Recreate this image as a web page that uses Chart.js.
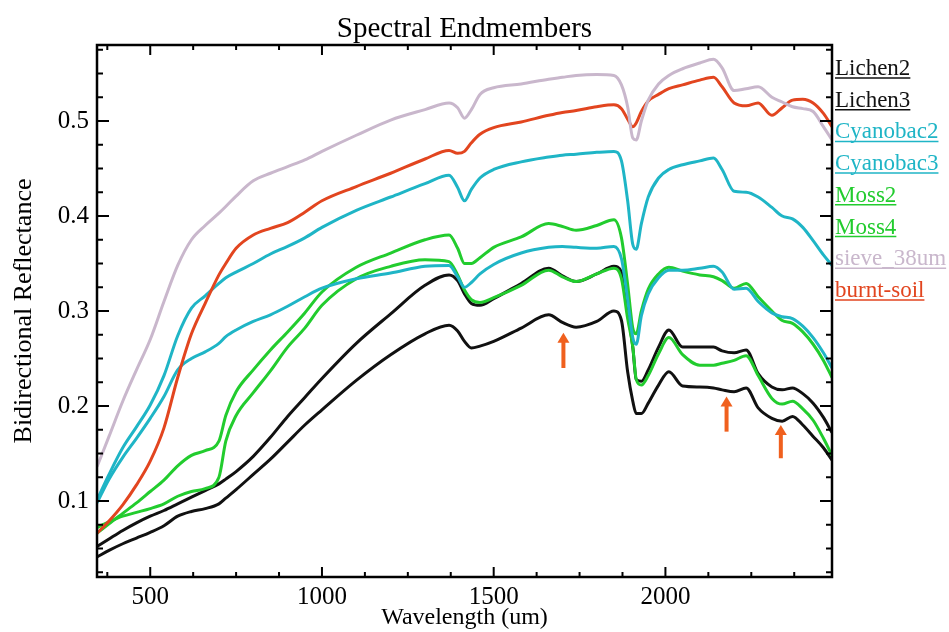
<!DOCTYPE html>
<html>
<head>
<meta charset="utf-8">
<title>Spectral Endmembers</title>
<script src="https://cdn.jsdelivr.net/npm/chart.js@4.4.1/dist/chart.umd.min.js"></script>
<style>
  html, body { margin: 0; padding: 0; background: #fff; }
  #wrap { width: 949px; height: 632px; }
</style>
</head>
<body>
<div id="wrap"><canvas id="chart" width="949" height="632"></canvas></div>
<script>
// wavelength grid shared by every spectrum
const wavelengths = [345, 380, 420, 460, 500, 540, 580, 620, 660, 700, 720, 750, 800, 850, 900, 950, 1000, 1100, 1200, 1300,
  1370, 1395, 1415, 1435, 1460, 1500, 1580, 1660, 1700, 1740, 1800, 1850, 1872, 1890, 1905, 1915, 1930, 1950, 1980, 2010,
  2050, 2100, 2140, 2165, 2200, 2235, 2270, 2310, 2340, 2370, 2400, 2430, 2460, 2485];

const lichen2 = [0.052, 0.060, 0.069, 0.077, 0.084, 0.090, 0.097, 0.104, 0.111, 0.118, 0.123, 0.131, 0.147, 0.167, 0.189, 0.209, 0.229, 0.266, 0.297, 0.327,
  0.338, 0.332, 0.318, 0.308, 0.306, 0.313, 0.329, 0.345, 0.337, 0.331, 0.339, 0.347, 0.341, 0.300, 0.262, 0.228, 0.226, 0.238, 0.262, 0.280,
  0.262, 0.262, 0.262, 0.258, 0.256, 0.259, 0.234, 0.220, 0.217, 0.219, 0.213, 0.203, 0.188, 0.172];

const lichen3 = [0.041, 0.048, 0.055, 0.061, 0.067, 0.074, 0.084, 0.089, 0.092, 0.097, 0.103, 0.112, 0.128, 0.144, 0.162, 0.180, 0.196, 0.227, 0.254, 0.276,
  0.285, 0.279, 0.268, 0.261, 0.263, 0.268, 0.282, 0.296, 0.288, 0.283, 0.289, 0.300, 0.290, 0.236, 0.205, 0.192, 0.192, 0.203, 0.222, 0.236,
  0.221, 0.220, 0.219, 0.217, 0.215, 0.219, 0.198, 0.187, 0.184, 0.189, 0.180, 0.168, 0.156, 0.143];

const cyanobac2 = [0.101, 0.128, 0.156, 0.178, 0.201, 0.232, 0.274, 0.303, 0.316, 0.329, 0.335, 0.341, 0.350, 0.360, 0.368, 0.377, 0.388, 0.406, 0.420, 0.434,
  0.443, 0.430, 0.416, 0.428, 0.440, 0.449, 0.457, 0.462, 0.464, 0.465, 0.467, 0.468, 0.458, 0.416, 0.370, 0.365, 0.392, 0.420, 0.440, 0.449,
  0.454, 0.458, 0.461, 0.449, 0.426, 0.425, 0.420, 0.409, 0.400, 0.397, 0.388, 0.374, 0.359, 0.348];

const cyanobac3 = [0.098, 0.123, 0.146, 0.166, 0.187, 0.210, 0.238, 0.250, 0.257, 0.266, 0.273, 0.280, 0.289, 0.296, 0.305, 0.315, 0.324, 0.334, 0.340, 0.347,
  0.348, 0.336, 0.325, 0.330, 0.339, 0.349, 0.361, 0.367, 0.368, 0.367, 0.366, 0.368, 0.355, 0.312, 0.272, 0.265, 0.295, 0.318, 0.335, 0.343,
  0.343, 0.345, 0.347, 0.341, 0.323, 0.324, 0.310, 0.298, 0.294, 0.292, 0.284, 0.272, 0.256, 0.240];

const moss2 = [0.066, 0.076, 0.087, 0.098, 0.110, 0.122, 0.137, 0.148, 0.153, 0.163, 0.190, 0.215, 0.238, 0.259, 0.278, 0.298, 0.320, 0.346, 0.361, 0.375,
  0.380, 0.366, 0.350, 0.350, 0.356, 0.367, 0.378, 0.392, 0.389, 0.385, 0.390, 0.396, 0.377, 0.328, 0.282, 0.276, 0.300, 0.323, 0.339, 0.346,
  0.342, 0.338, 0.336, 0.332, 0.324, 0.329, 0.315, 0.300, 0.290, 0.287, 0.278, 0.265, 0.248, 0.230];

const moss4 = [0.072, 0.078, 0.084, 0.088, 0.092, 0.097, 0.105, 0.110, 0.113, 0.125, 0.163, 0.190, 0.214, 0.237, 0.262, 0.282, 0.306, 0.334, 0.347, 0.354,
  0.352, 0.338, 0.322, 0.312, 0.309, 0.314, 0.327, 0.343, 0.336, 0.331, 0.339, 0.345, 0.334, 0.292, 0.262, 0.228, 0.222, 0.232, 0.255, 0.272,
  0.254, 0.243, 0.243, 0.245, 0.248, 0.253, 0.232, 0.208, 0.202, 0.205, 0.197, 0.185, 0.166, 0.148];

const sieve38 = [0.136, 0.168, 0.205, 0.238, 0.270, 0.310, 0.348, 0.375, 0.390, 0.403, 0.410, 0.421, 0.437, 0.445, 0.452, 0.459, 0.468, 0.485, 0.501, 0.512,
  0.519, 0.514, 0.503, 0.512, 0.528, 0.535, 0.539, 0.544, 0.546, 0.548, 0.549, 0.548, 0.538, 0.515, 0.482, 0.480, 0.500, 0.522, 0.539, 0.548,
  0.555, 0.561, 0.565, 0.556, 0.532, 0.534, 0.536, 0.525, 0.520, 0.515, 0.513, 0.510, 0.494, 0.480];

const burntSoil = [0.066, 0.079, 0.096, 0.117, 0.142, 0.177, 0.230, 0.276, 0.308, 0.338, 0.350, 0.366, 0.380, 0.387, 0.393, 0.404, 0.416, 0.431, 0.445, 0.460,
  0.469, 0.466, 0.468, 0.477, 0.486, 0.493, 0.499, 0.506, 0.509, 0.511, 0.515, 0.517, 0.513, 0.502, 0.494, 0.498, 0.510, 0.521, 0.528, 0.534,
  0.538, 0.543, 0.546, 0.536, 0.519, 0.516, 0.519, 0.506, 0.514, 0.522, 0.523, 0.519, 0.508, 0.494];

const seriesNames = ['Lichen2', 'Lichen3', 'Cyanobac2', 'Cyanobac3', 'Moss2', 'Moss4', 'sieve_38um', 'burnt-soil'];
const seriesValues = [lichen2, lichen3, cyanobac2, cyanobac3, moss2, moss4, sieve38, burntSoil];
const seriesColors = ['#111111', '#111111', '#1fb5c6', '#1fb5c6', '#22cc2e', '#22cc2e', '#c9b7cc', '#e2451f'];

// x ticks and y ticks
const xTickValues = [500, 1000, 1500, 2000];
const yTickValues = [0.1, 0.2, 0.3, 0.4, 0.5];

// absorption feature arrows: wavelength, tail, tip
const arrowX = [1703, 2178, 2336];
const arrowTail = [0.240, 0.173, 0.145];
const arrowTip = [0.277, 0.210, 0.180];

const serif = '"Liberation Serif", "DejaVu Serif", serif';

// drawing order: light ones first so black stays on top
const drawOrder = [6, 7, 2, 3, 4, 5, 0, 1];
const datasets = drawOrder.map(i => ({
    label: seriesNames[i],
    data: wavelengths.map((w, k) => ({ x: w, y: seriesValues[i][k] })),
    borderColor: seriesColors[i],
    borderWidth: 3,
    pointRadius: 0,
    cubicInterpolationMode: 'monotone',
    fill: false
}));

const frameAndText = {
    id: 'frameAndText',
    afterDatasetsDraw(chart) {
        const { ctx, chartArea: a, scales: { x, y } } = chart;
        ctx.save();

        // arrows
        ctx.fillStyle = '#f0601e';
        ctx.strokeStyle = '#f0601e';
        arrowX.forEach((w, i) => {
            const px = x.getPixelForValue(w);
            const y0 = y.getPixelForValue(arrowTail[i]);
            const y1 = y.getPixelForValue(arrowTip[i]);
            ctx.lineWidth = 4;
            ctx.beginPath();
            ctx.moveTo(px, y0);
            ctx.lineTo(px, y1 + 9);
            ctx.stroke();
            ctx.beginPath();
            ctx.moveTo(px - 6, y1 + 10);
            ctx.lineTo(px + 6, y1 + 10);
            ctx.lineTo(px, y1);
            ctx.closePath();
            ctx.fill();
        });

        // frame with inward ticks
        ctx.strokeStyle = '#000';
        ctx.lineWidth = 2.5;
        ctx.strokeRect(a.left, a.top, a.right - a.left, a.bottom - a.top);
        ctx.lineWidth = 2;
        ctx.beginPath();
        for (let v = 375; v <= x.max; v += 125) {
            const px = x.getPixelForValue(v);
            const len = v % 500 === 0 ? 10 : 5;
            ctx.moveTo(px, a.bottom); ctx.lineTo(px, a.bottom - len);
            ctx.moveTo(px, a.top); ctx.lineTo(px, a.top + len);
        }
        for (let k = 1; k * 0.025 <= y.max; k++) {
            const py = y.getPixelForValue(k * 0.025);
            const len = k % 4 === 0 ? 12 : 6;
            ctx.moveTo(a.left, py); ctx.lineTo(a.left + len, py);
            ctx.moveTo(a.right, py); ctx.lineTo(a.right - len, py);
        }
        ctx.stroke();

        // title
        ctx.fillStyle = '#000';
        ctx.font = '29px ' + serif;
        ctx.textAlign = 'center';
        ctx.textBaseline = 'alphabetic';
        ctx.fillText('Spectral Endmembers', (a.left + a.right) / 2, 37);

        // legend, underlined names at the right
        ctx.font = '23px ' + serif;
        ctx.textAlign = 'left';
        ctx.lineWidth = 1.5;
        seriesNames.forEach((name, i) => {
            const bx = a.right + 3;
            const by = 75 + i * 31.7;
            ctx.fillStyle = seriesColors[i];
            ctx.strokeStyle = seriesColors[i];
            ctx.fillText(name, bx, by);
            const w = ctx.measureText(name).width;
            ctx.beginPath();
            ctx.moveTo(bx, by + 3);
            ctx.lineTo(bx + w, by + 3);
            ctx.stroke();
        });
        ctx.restore();
    }
};

new Chart(document.getElementById('chart'), {
    type: 'line',
    data: { datasets },
    options: {
        responsive: false,
        animation: false,
        layout: { padding: { top: 45, right: 117, bottom: 0, left: 0 } },
        plugins: {
            legend: { display: false },
            tooltip: { enabled: false },
            title: { display: false }
        },
        scales: {
            x: {
                type: 'linear',
                min: 345,
                max: 2485,
                afterBuildTicks: (s) => { s.ticks = xTickValues.map(v => ({ value: v })); },
                afterFit: (s) => { s.height = 55; },
                grid: { display: false, drawTicks: false },
                border: { display: false },
                ticks: { color: '#000', font: { family: serif, size: 25 }, padding: 5, maxRotation: 0, autoSkip: false, callback: (v) => String(v) },
                title: { display: true, text: 'Wavelength (um)', color: '#000', font: { family: serif, size: 24 }, padding: { top: 0, bottom: 0 } }
            },
            y: {
                min: 0.02,
                max: 0.58,
                afterBuildTicks: (s) => { s.ticks = yTickValues.map(v => ({ value: v })); },
                afterFit: (s) => { s.width = 97; },
                grid: { display: false, drawTicks: false },
                border: { display: false },
                ticks: { color: '#000', font: { family: serif, size: 25 }, padding: 8, callback: (v) => v.toFixed(1) },
                title: { display: true, text: 'Bidirectional Reflectance', color: '#000', font: { family: serif, size: 26 }, padding: { top: 9, bottom: 0 } }
            }
        }
    },
    plugins: [frameAndText]
});
</script>
</body>
</html>
